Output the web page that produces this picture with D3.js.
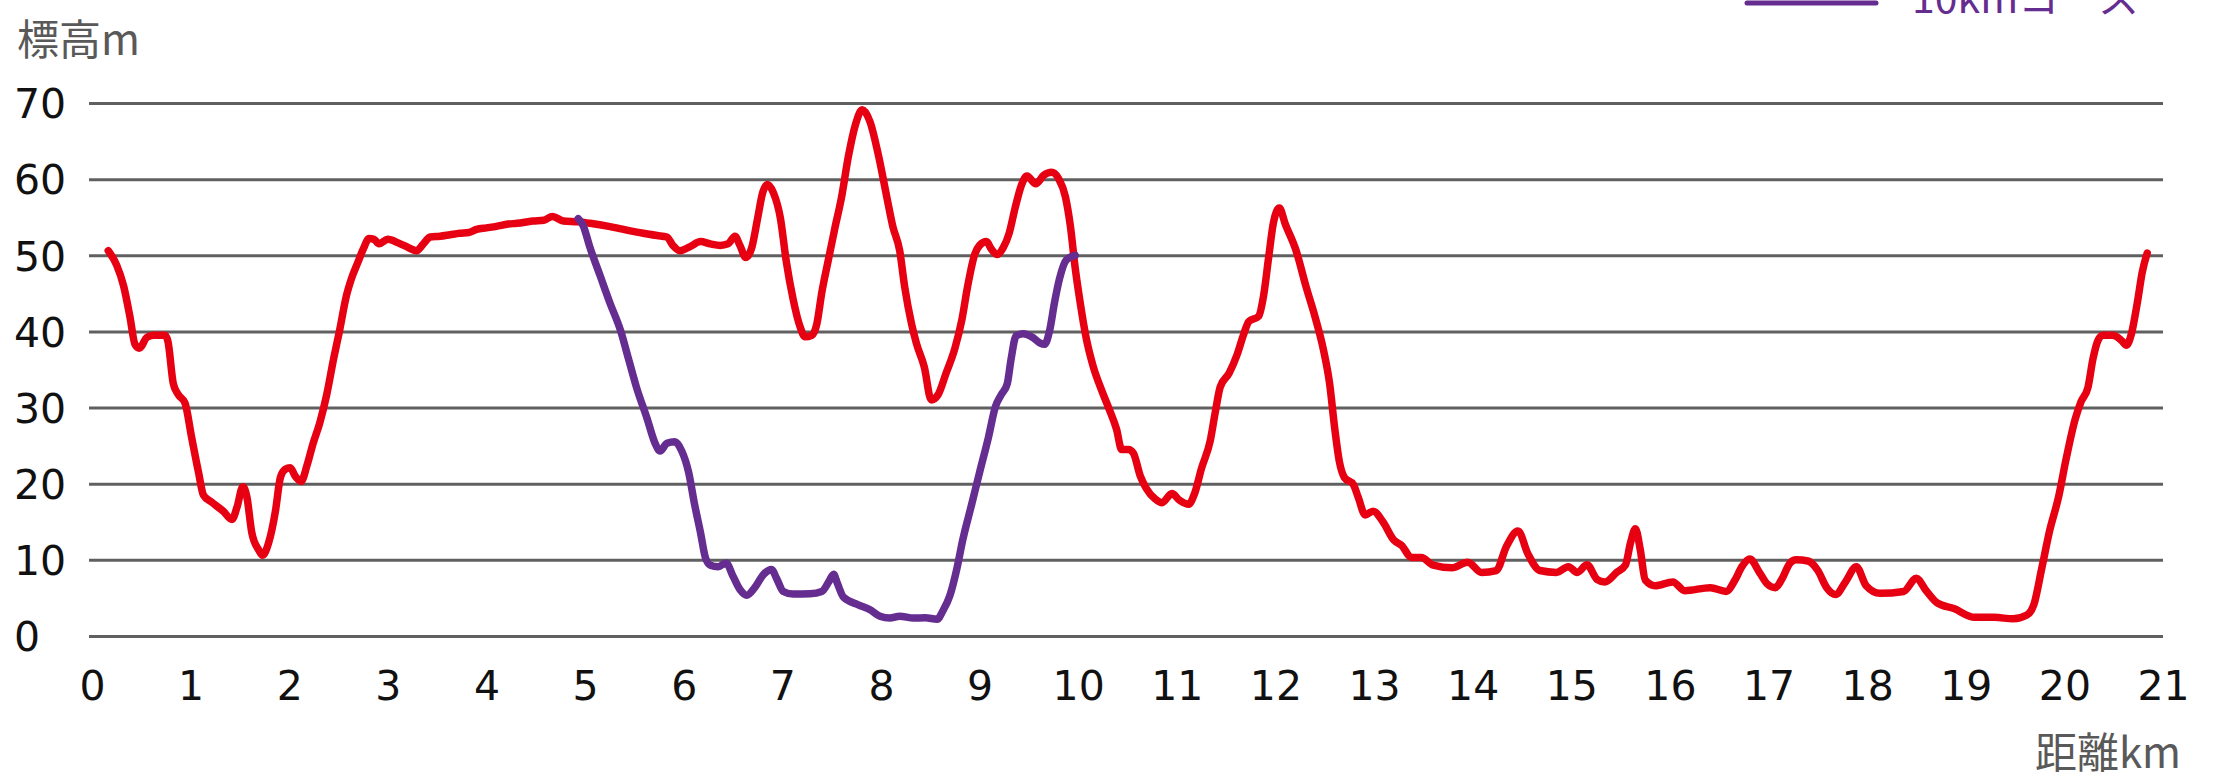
<!DOCTYPE html>
<html>
<head>
<meta charset="utf-8">
<script src="https://cdn.jsdelivr.net/npm/d3@7"></script>
<style>
  body { margin: 0; background: #fff; }
  svg { display: block; }
</style>
</head>
<body>
<svg id="chart"></svg>
<script>
// elevation profile: half course (red) and 10km course (purple)
const halfKm = [0.165,0.25,0.32,0.385,0.436,0.48,0.555,0.62,0.74,0.77,0.825,0.875,0.943,1.01,1.08,1.13,1.21,1.33,1.42,1.47,1.53,1.57,1.62,1.69,1.73,1.79,1.86,1.91,1.96,2.01,2.06,2.12,2.18,2.24,2.31,2.38,2.45,2.51,2.58,2.63,2.70,2.75,2.81,2.86,2.91,3.00,3.11,3.21,3.29,3.36,3.43,3.53,3.63,3.73,3.82,3.90,4.00,4.10,4.22,4.31,4.47,4.58,4.67,4.78,4.93,5.05,5.24,5.39,5.59,5.73,5.83,5.89,5.96,6.06,6.17,6.27,6.37,6.45,6.52,6.57,6.63,6.69,6.75,6.80,6.85,6.91,6.98,7.04,7.11,7.18,7.23,7.30,7.35,7.40,7.47,7.53,7.60,7.67,7.74,7.81,7.89,7.97,8.06,8.12,8.19,8.24,8.31,8.36,8.44,8.51,8.58,8.66,8.75,8.82,8.88,8.95,9.00,9.07,9.12,9.18,9.24,9.30,9.36,9.43,9.48,9.57,9.65,9.73,9.80,9.87,9.92,9.97,10.02,10.08,10.15,10.24,10.32,10.39,10.44,10.51,10.56,10.63,10.69,10.78,10.85,10.95,11.03,11.12,11.18,11.25,11.34,11.39,11.44,11.53,11.61,11.68,11.73,11.83,11.88,11.93,11.98,12.04,12.10,12.21,12.31,12.40,12.49,12.55,12.60,12.65,12.70,12.79,12.84,12.91,12.99,13.09,13.20,13.28,13.38,13.48,13.60,13.79,13.95,14.09,14.24,14.34,14.46,14.56,14.68,14.85,14.97,15.06,15.16,15.26,15.34,15.46,15.55,15.60,15.65,15.70,15.75,15.85,16.03,16.15,16.41,16.57,16.66,16.73,16.81,16.91,16.99,17.07,17.13,17.22,17.28,17.40,17.50,17.59,17.68,17.78,17.89,17.99,18.13,18.37,18.50,18.59,18.71,18.88,19.09,19.29,19.48,19.62,19.69,19.77,19.85,19.94,20.02,20.11,20.17,20.24,20.29,20.34,20.39,20.49,20.58,20.63,20.68,20.74,20.79,20.84];
const halfElev = [50.6,48.7,46.0,41.9,38.3,37.8,39.2,39.5,39.5,38.7,33.1,31.7,30.6,26.1,21.5,18.5,17.6,16.4,15.3,16.9,19.6,18.3,13.6,11.3,10.6,12.2,16.4,20.8,21.9,22.1,21.0,20.3,22.4,25.2,28.0,31.7,36.4,40.1,44.7,46.9,49.2,50.8,52.2,52.1,51.5,52.1,51.6,51.0,50.6,51.5,52.4,52.5,52.7,52.9,53.0,53.4,53.6,53.8,54.1,54.2,54.5,54.6,55.1,54.5,54.4,54.2,53.8,53.4,52.9,52.6,52.4,51.3,50.6,51.1,51.8,51.5,51.3,51.5,52.5,51.3,49.7,51.0,54.9,58.2,59.3,58.2,54.9,49.2,44.2,40.6,39.3,39.5,41.0,45.1,49.6,53.4,57.6,63.0,67.1,69.1,67.5,63.4,57.6,53.8,50.6,45.9,41.0,38.4,35.3,31.0,31.7,34.5,37.8,41.5,46.0,50.1,51.3,51.8,50.8,50.1,51.0,52.9,56.2,59.4,60.4,59.4,60.5,60.9,60.1,57.7,53.9,48.3,43.8,39.2,35.5,32.2,29.6,27.1,24.5,24.5,24.0,21.0,19.4,18.0,17.5,18.7,17.8,17.3,18.7,22.0,25.7,29.4,32.7,34.5,36.9,39.7,41.3,42.0,44.7,49.6,54.3,56.2,54.1,50.6,45.9,42.0,37.4,33.1,27.4,22.8,20.8,19.9,18.2,15.9,16.4,15.0,12.6,11.9,10.3,10.3,9.3,8.95,9.7,8.35,8.6,11.7,13.8,10.8,8.6,8.35,9.1,8.35,9.35,7.45,7.1,8.35,9.35,12.2,14.1,11.3,7.35,6.6,7.1,5.95,6.35,5.85,7.35,9.1,10.1,8.3,6.8,6.35,7.35,9.6,10.0,9.85,8.6,6.35,5.45,7.1,9.1,6.6,5.6,5.85,7.6,6.1,4.35,3.6,2.45,2.45,2.25,2.75,4.1,8.85,13.8,18.2,23.4,28.5,30.8,32.7,36.4,38.8,39.5,39.5,38.8,38.2,39.7,43.8,47.8,50.3];

const tenKm = [4.93,4.98,5.05,5.15,5.25,5.36,5.44,5.52,5.63,5.71,5.76,5.83,5.91,5.98,6.05,6.11,6.17,6.22,6.27,6.35,6.43,6.50,6.57,6.64,6.72,6.81,6.89,6.94,7.01,7.11,7.28,7.40,7.47,7.52,7.56,7.62,7.77,7.89,7.99,8.09,8.19,8.33,8.45,8.57,8.63,8.70,8.77,8.83,8.92,9.00,9.09,9.16,9.22,9.28,9.32,9.37,9.44,9.54,9.61,9.66,9.71,9.76,9.81,9.88,9.97];
const tenElev = [54.8,53.9,51.0,47.4,43.8,40.1,36.4,32.7,28.5,25.3,24.3,25.3,25.5,24.3,21.5,17.3,13.6,10.3,9.3,9.1,9.6,7.85,6.1,5.35,6.35,8.1,8.75,7.6,5.85,5.5,5.55,5.85,7.1,8.1,6.85,5.1,4.1,3.45,2.6,2.35,2.6,2.35,2.4,2.2,3.35,5.35,8.85,12.65,17.3,21.5,26.1,30.1,31.7,33.1,36.4,39.4,39.7,39.2,38.5,38.3,40.1,43.8,46.9,49.4,50.0];

const yTicks = [0, 10, 20, 30, 40, 50, 60, 70];
const xTicks = d3.range(0, 22);
const yTitle = '標高m';
const xTitle = '距離km';
const legendLabel = '10kmコース';

const W = 2218, H = 779;
const RED = '#e60012', PURPLE = '#662d91';
const numFont = '"DejaVu Sans", sans-serif';
const jpFont = '"Noto Sans CJK JP", "Noto Sans", sans-serif';

const svg = d3.select('#chart').attr('width', W).attr('height', H);

const x = d3.scaleLinear().domain([0, 21]).range([92, 2163]);
const y = d3.scaleLinear().domain([0, 70]).range([636, 103]);

// horizontal grid + y labels
const yAxis = svg.append('g')
  .attr('transform', `translate(${x(0) - 3},0)`)
  .call(d3.axisLeft(y).tickValues(yTicks).tickSize(-(x(21) - x(0) + 3)));
yAxis.select('.domain').remove();
yAxis.selectAll('line').attr('stroke', '#606060').attr('stroke-width', 3);
yAxis.selectAll('text')
  .attr('x', 14 - (x(0) - 3))
  .attr('dy', '0.36em')
  .attr('text-anchor', 'start')
  .attr('font-family', numFont).attr('font-size', 41).attr('fill', '#111');

// x labels
const xAxis = svg.append('g')
  .attr('transform', 'translate(0,636)')
  .call(d3.axisBottom(x).tickValues(xTicks).tickSize(0));
xAxis.select('.domain').remove();
xAxis.selectAll('text')
  .attr('y', 64).attr('dy', 0)
  .attr('font-family', numFont).attr('font-size', 41).attr('fill', '#111');

// axis titles
svg.append('text').attr('x', 17).attr('y', 55)
  .attr('font-family', jpFont).attr('font-size', 42).attr('fill', '#595959')
  .text(yTitle);
svg.append('text').attr('x', 2181).attr('y', 768).attr('text-anchor', 'end')
  .attr('font-family', jpFont).attr('font-size', 42).attr('fill', '#595959')
  .text(xTitle);

const line = d3.line()
  .x(d => x(d[0]))
  .y(d => y(d[1]))
  .curve(d3.curveMonotoneX);

svg.append('path')
  .datum(d3.zip(halfKm, halfElev))
  .attr('fill', 'none').attr('stroke', RED).attr('stroke-width', 7.5)
  .attr('stroke-linejoin', 'round').attr('stroke-linecap', 'round')
  .attr('d', line);

svg.append('path')
  .datum(d3.zip(tenKm, tenElev))
  .attr('fill', 'none').attr('stroke', PURPLE).attr('stroke-width', 7.5)
  .attr('stroke-linejoin', 'round').attr('stroke-linecap', 'round')
  .attr('d', line);

// legend (partly cut off at top, as in the source)
svg.append('line').attr('x1', 1747).attr('x2', 1876).attr('y1', 3).attr('y2', 3)
  .attr('stroke', PURPLE).attr('stroke-width', 5).attr('stroke-linecap', 'round');
svg.append('text').attr('x', 1912).attr('y', 13)
  .attr('font-family', jpFont).attr('font-size', 41).attr('fill', PURPLE)
  .text(legendLabel);
</script>
</body>
</html>
